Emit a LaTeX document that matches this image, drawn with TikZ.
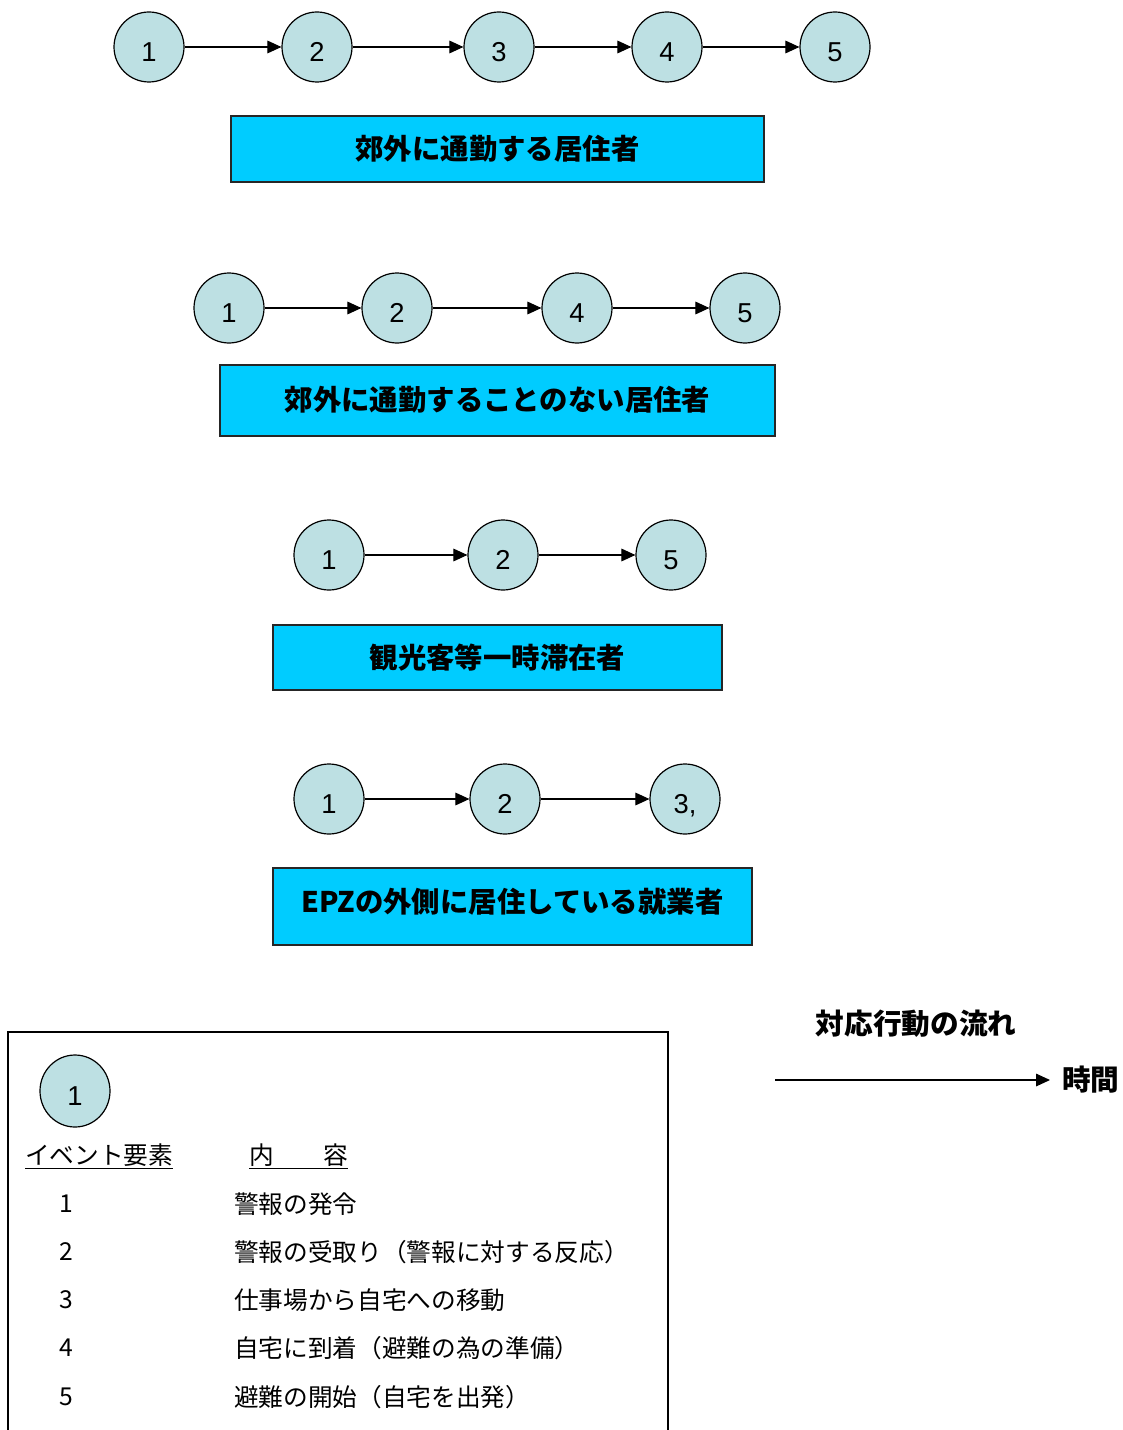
\documentclass[tikz,border=0pt]{standalone}
\usepackage{fontspec}
\setmainfont{Noto Sans CJK JP}
\newfontfamily\arialf{Liberation Sans}
\usetikzlibrary{arrows.meta,shapes.geometric}
\definecolor{circfill}{HTML}{BDE0E3}
\definecolor{boxfill}{HTML}{00CCFF}
\tikzset{
  ev/.style={circle,draw=black,line width=0.9pt,fill=circfill,minimum size=52.5pt,inner sep=0pt,
    font=\arialf\fontsize{20.5}{20}\selectfont,text height=22pt,text depth=0pt},
  grp/.style={rectangle,draw=black!85,line width=1pt,fill=boxfill,inner sep=0pt,
    font=\bfseries\fontsize{21.3}{22}\selectfont},
  flow/.style={line width=0.8pt,-{Triangle[length=10.5pt,width=9.5pt]}},
  leg/.style={anchor=west,inner sep=0pt,font=\fontsize{18.5}{20}\selectfont},
  legnum/.style={inner sep=0pt,font=\fontsize{18.5}{20}\selectfont},
}
\begin{document}
\begin{tikzpicture}[x=0.75pt,y=-0.75pt]
\useasboundingbox (0,0) rectangle (1122,1430);
% row 1
\node[ev] (a1) at (149,47) {1};
\node[ev] (a2) at (317,47) {2};
\node[ev] (a3) at (499,47) {3};
\node[ev] (a4) at (667,47) {4};
\node[ev] (a5) at (835,47) {5};
\draw[flow] (a1) -- (a2);
\draw[flow] (a2) -- (a3);
\draw[flow] (a3) -- (a4);
\draw[flow] (a4) -- (a5);
\node[grp,minimum width=399.75pt,minimum height=49.5pt] (g1) at (497.5,149) {郊外に通勤する居住者};
% row 2
\node[ev] (b1) at (229,308) {1};
\node[ev] (b2) at (397,308) {2};
\node[ev] (b4) at (577,308) {4};
\node[ev] (b5) at (745,308) {5};
\draw[flow] (b1) -- (b2);
\draw[flow] (b2) -- (b4);
\draw[flow] (b4) -- (b5);
\node[grp,minimum width=416.25pt,minimum height=53.25pt,text depth=4pt] (g2) at (497.5,400.5) {郊外に通勤することのない居住者};
% row 3
\node[ev] (c1) at (329,555) {1};
\node[ev] (c2) at (503,555) {2};
\node[ev] (c5) at (671,555) {5};
\draw[flow] (c1) -- (c2);
\draw[flow] (c2) -- (c5);
\node[grp,minimum width=336.75pt,minimum height=48.75pt] (g3) at (497.5,657.5) {観光客等一時滞在者};
% row 4
\node[ev] (d1) at (329,799) {1};
\node[ev] (d2) at (505,799) {2};
\node[ev] (d3) at (685,799) {3,};
\draw[flow] (d1) -- (d2);
\draw[flow] (d2) -- (d3);
\node[grp,minimum width=359.25pt,minimum height=57.75pt,text depth=9pt] (g4) at (512.5,906.5) {EPZの外側に居住している就業者};
% legend frame
\draw[line width=1pt] (8,1432) -- (8,1032) -- (668,1032) -- (668,1432);
\node[ev,ellipse,minimum width=52.5pt,minimum height=54pt] (lc) at (75,1091) {1};
\node[leg] (h1) at (25,1156) {\underline{イベント要素}};
\node[leg] (h2) at (249,1156) {\underline{内　　容}};
\node[legnum] (n1) at (66,1204) {1};
\node[legnum] (n2) at (66,1252) {2};
\node[legnum] (n3) at (66,1300) {3};
\node[legnum] (n4) at (66,1348) {4};
\node[legnum] (n5) at (66,1397) {5};
\node[leg] (t1) at (234,1204) {警報の発令};
\node[leg] (t2) at (234,1252) {警報の受取り（警報に対する反応）};
\node[leg] (t3) at (234,1300) {仕事場から自宅への移動};
\node[leg] (t4) at (234,1348) {自宅に到着（避難の為の準備）};
\node[leg] (t5) at (234,1397) {避難の開始（自宅を出発）};
% time arrow
\node[font=\bfseries\fontsize{21.5}{22}\selectfont,inner sep=0pt] (fl) at (916,1024) {対応行動の流れ};
\node[font=\bfseries\fontsize{21.5}{22}\selectfont,anchor=west,inner sep=0pt] (tm) at (1062,1080) {時間};
\coordinate (ts) at (775,1080);
\draw[flow,shorten >=9pt] (ts) -- (tm.west);
\end{tikzpicture}
\end{document}
